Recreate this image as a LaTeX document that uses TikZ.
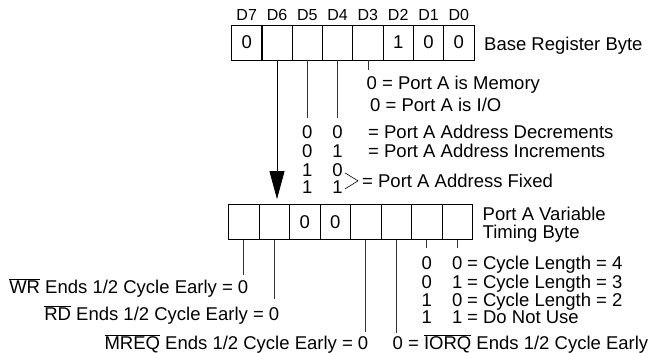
\documentclass[tikz,border=0pt]{standalone}
\usepackage{fontspec}
\setmainfont{Liberation Sans}
\usetikzlibrary{arrows.meta}
\newcommand{\sig}[1]{$\overline{\mbox{#1}}$}

\begin{document}
\begin{tikzpicture}[x=1pt, y=-1pt,
  every node/.style={font=\fontsize{18.5}{18.5}\selectfont},
  cell/.style={draw, line width=0.8pt, minimum width=30.4, minimum height=35, inner sep=0pt},
  txt/.style={inner sep=0pt},
  bitname/.style={txt, anchor=base, font=\fontsize{16}{16}\selectfont},
  lead/.style={draw=black!80, line width=0.8pt},
  bigarrow/.style={-{Triangle[length=28pt,width=15pt]}, line width=0.8pt, shorten >=5pt}
]
\useasboundingbox (0,0) rectangle (651,353);

% Base register byte.
\node[cell] (t7) at (246.7,42.5) {0};
\node[cell] (t6) at (277.0,42.5) {};
\node[cell] (t5) at (307.3,42.5) {};
\node[cell] (t4) at (337.6,42.5) {};
\node[cell] (t3) at (367.9,42.5) {};
\node[cell] (t2) at (398.2,42.5) {1};
\node[cell] (t1) at (428.5,42.5) {0};
\node[cell] (t0) at (458.8,42.5) {0};

\node[bitname] (l7) at (t7 |- 0,20.5) {D7};
\node[bitname] (l6) at (t6 |- 0,20.5) {D6};
\node[bitname] (l5) at (t5 |- 0,20.5) {D5};
\node[bitname] (l4) at (t4 |- 0,20.5) {D4};
\node[bitname] (l3) at (t3 |- 0,20.5) {D3};
\node[bitname] (l2) at (t2 |- 0,20.5) {D2};
\node[bitname] (l1) at (t1 |- 0,20.5) {D1};
\node[bitname] (l0) at (t0 |- 0,20.5) {D0};

\node[txt, anchor=base west] (base) at (484,51) {Base Register Byte};

% D3: memory or I/O.
\node[txt, anchor=base west] (mem) at (366.5,89.5) {0 = Port A is Memory};
\node[txt, anchor=base west] (io) at (370,111) {0 = Port A is I/O};
\draw[lead, shorten >=6pt] (t3.south) -- (t3.south |- mem.north);

% D5, D4: address mode.
\node[txt, anchor=base] (a50) at (t5 |- 0,139) {0};
\node[txt, anchor=base] (a40) at (t4 |- 0,139) {0};
\node[txt, anchor=base] (a51) at (t5 |- 0,157.5) {0};
\node[txt, anchor=base] (a41) at (t4 |- 0,157.5) {1};
\node[txt, anchor=base] (a52) at (t5 |- 0,176.5) {1};
\node[txt, anchor=base] (a42) at (t4 |- 0,176.5) {0};
\node[txt, anchor=base] (a53) at (t5 |- 0,193.5) {1};
\node[txt, anchor=base] (a43) at (t4 |- 0,193.5) {1};
\node[txt, anchor=base west] (dec) at (368,139) {= Port A Address Decrements};
\node[txt, anchor=base west] (inc) at (368,157.5) {= Port A Address Increments};
\node[txt, anchor=base west] (fix) at (362,187.5) {= Port A Address Fixed};
\draw[lead, shorten >=7.5pt] (t5.south) -- (t5.south |- a50.north);
\draw[lead, shorten >=7.5pt] (t4.south) -- (t4.south |- a40.north);
\draw[line width=0.6pt] ([xshift=-17pt,yshift=8pt]fix.west) -- ([xshift=-4pt]fix.west)
  -- ([xshift=-17pt,yshift=-8pt]fix.west);

% Port A variable timing byte.
\node[cell] (b7) at (243.7,222) {};
\node[cell] (b6) at (274.2,222) {};
\node[cell] (b5) at (304.7,222) {0};
\node[cell] (b4) at (335.2,222) {0};
\node[cell] (b3) at (365.7,222) {};
\node[cell] (b2) at (396.2,222) {};
\node[cell] (b1) at (426.7,222) {};
\node[cell] (b0) at (457.2,222) {};

\node[txt, anchor=base west] (vt1) at (482.5,220) {Port A Variable};
\node[txt, anchor=base west] (vt2) at (482.5,238.5) {Timing Byte};

\draw[bigarrow] (t6.south) -- (t6.south |- b6.north);

% Early-ending strobes.
\node[txt, anchor=base east] (wr) at (248.5,293) {\sig{WR} Ends 1/2 Cycle Early = 0};
\node[txt, anchor=base east] (rd) at (279.5,320) {\sig{RD} Ends 1/2 Cycle Early = 0};
\node[txt, anchor=base east] (mreq) at (368.5,349.5) {\sig{MREQ} Ends 1/2 Cycle Early = 0};
\node[txt, anchor=base west] (iorq) at (392.5,349.5) {0 = \sig{IORQ} Ends 1/2 Cycle Early};
\draw[lead, shorten >=3pt] (b7.south) -- (b7.south |- wr.north);
\draw[lead, shorten >=6pt] (b6.south) -- (b6.south |- rd.north);
\draw[lead, shorten >=2.5pt] (b3.south) -- (b3.south |- mreq.north);
\draw[lead, shorten >=1pt] (b2.south) -- (b2.south |- iorq.north);

% D1, D0: cycle length.
\node[txt, anchor=base] (c10) at (b1 |- 0,269) {0};
\node[txt, anchor=base] (c00) at (b0 |- 0,269) {0};
\node[txt, anchor=base] (c11) at (b1 |- 0,288) {0};
\node[txt, anchor=base] (c01) at (b0 |- 0,288) {1};
\node[txt, anchor=base] (c12) at (b1 |- 0,306.5) {1};
\node[txt, anchor=base] (c02) at (b0 |- 0,306.5) {0};
\node[txt, anchor=base] (c13) at (b1 |- 0,323.5) {1};
\node[txt, anchor=base] (c03) at (b0 |- 0,323.5) {1};
\node[txt, anchor=base west] (len4) at (467,269) {= Cycle Length = 4};
\node[txt, anchor=base west] (len3) at (467,288) {= Cycle Length = 3};
\node[txt, anchor=base west] (len2) at (467,306.5) {= Cycle Length = 2};
\node[txt, anchor=base west] (dnu) at (467,323.5) {= Do Not Use};
\draw[lead, shorten >=7.5pt] (b1.south) -- (b1.south |- c10.north);
\draw[lead, shorten >=7.5pt] (b0.south) -- (b0.south |- c00.north);

\end{tikzpicture}
\end{document}
